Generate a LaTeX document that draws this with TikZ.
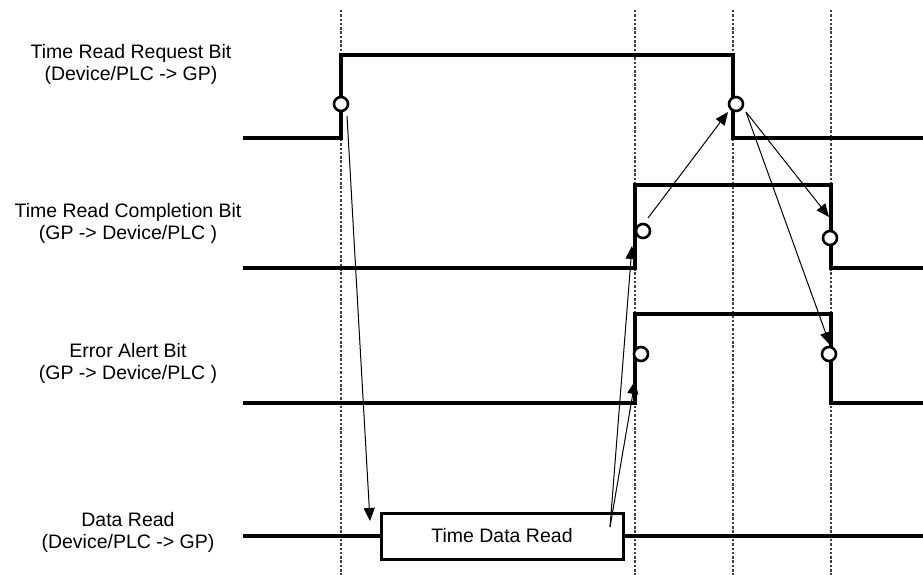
\documentclass[tikz,border=0pt]{standalone}
\usepackage{fontspec}
\setmainfont{Liberation Sans}
\usetikzlibrary{arrows.meta}
\begin{document}
\begin{tikzpicture}[x=1pt,y=-1pt,
  sig/.style={line width=3.4pt, line join=miter},
  gridline/.style={line width=2.2pt, dash pattern=on 2.5pt off 1.8pt, black!75},
  ring/.style={circle, draw, line width=2.6pt, fill=white, minimum size=14pt, inner sep=0pt},
  conn/.style={line width=1pt, -{Triangle[length=13pt,width=11pt]}},
  lbl/.style={align=center, font=\fontsize{19.5}{22}\selectfont},
  boxnode/.style={draw, line width=3pt, fill=white, minimum width=242pt, minimum height=46pt, font=\fontsize{19.5}{22}\selectfont}
]
\useasboundingbox (0,0) rectangle (923,575);
% dashed guide lines
\foreach \x/\n in {341/g1,635/g2,733/g3,831/g4}{
  \coordinate (\n t) at (\x,10);
  \coordinate (\n b) at (\x,575);
  \draw[gridline] (\n t) -- (\n b);
}
% labels
\node[lbl] (l1) at (131,64) {Time Read Request Bit\\(Device/PLC -> GP)};
\node[lbl] (l2) at (128,223) {Time Read Completion Bit\\(GP -> Device/PLC )};
\node[lbl] (l3) at (128,363) {Error Alert Bit\\(GP -> Device/PLC )};
\node[lbl] (l4) at (128,532) {Data Read\\(Device/PLC -> GP)};
% signals
\draw[sig] (243,138) -- (341,138) -- (341,55) -- (733,55) -- (733,138) -- (923,138);
\draw[sig] (243,268) -- (635,268) -- (635,185) -- (831,185) -- (831,268) -- (923,268);
\draw[sig] (243,403) -- (635,403) -- (635,314) -- (831,314) -- (831,403) -- (923,403);
\node[boxnode] (box) at (502,536) {Time Data Read};
\draw[sig] (243,536) -- (box.west);
\draw[sig] (box.east) -- (923,536);
% rings
\node[ring] (c1) at (341,104) {};
\node[ring] (c2) at (736,104) {};
\node[ring] (c3) at (643,231) {};
\node[ring] (c4) at (830,238) {};
\node[ring] (c5) at (641,354) {};
\node[ring] (c6) at (829,354) {};
% arrow endpoints
\coordinate (s1) at (347,116);
\coordinate (t1) at (370,521);
\coordinate (s2) at (610,527);
\coordinate (t2) at (632,246);
\coordinate (t3) at (635,381);
\coordinate (s4) at (648,218);
\coordinate (t4) at (728,112);
\coordinate (s5) at (746,112);
\coordinate (t5) at (829,217);
\coordinate (t6) at (830,345);
% arrows
\draw[conn] (s1) -- (t1);
\draw[conn] (s2) -- (t2);
\draw[conn] (s2) -- (t3);
\draw[conn] (s4) -- (t4);
\draw[conn] (s5) -- (t5);
\draw[conn] (s5) -- (t6);
\end{tikzpicture}
\end{document}
